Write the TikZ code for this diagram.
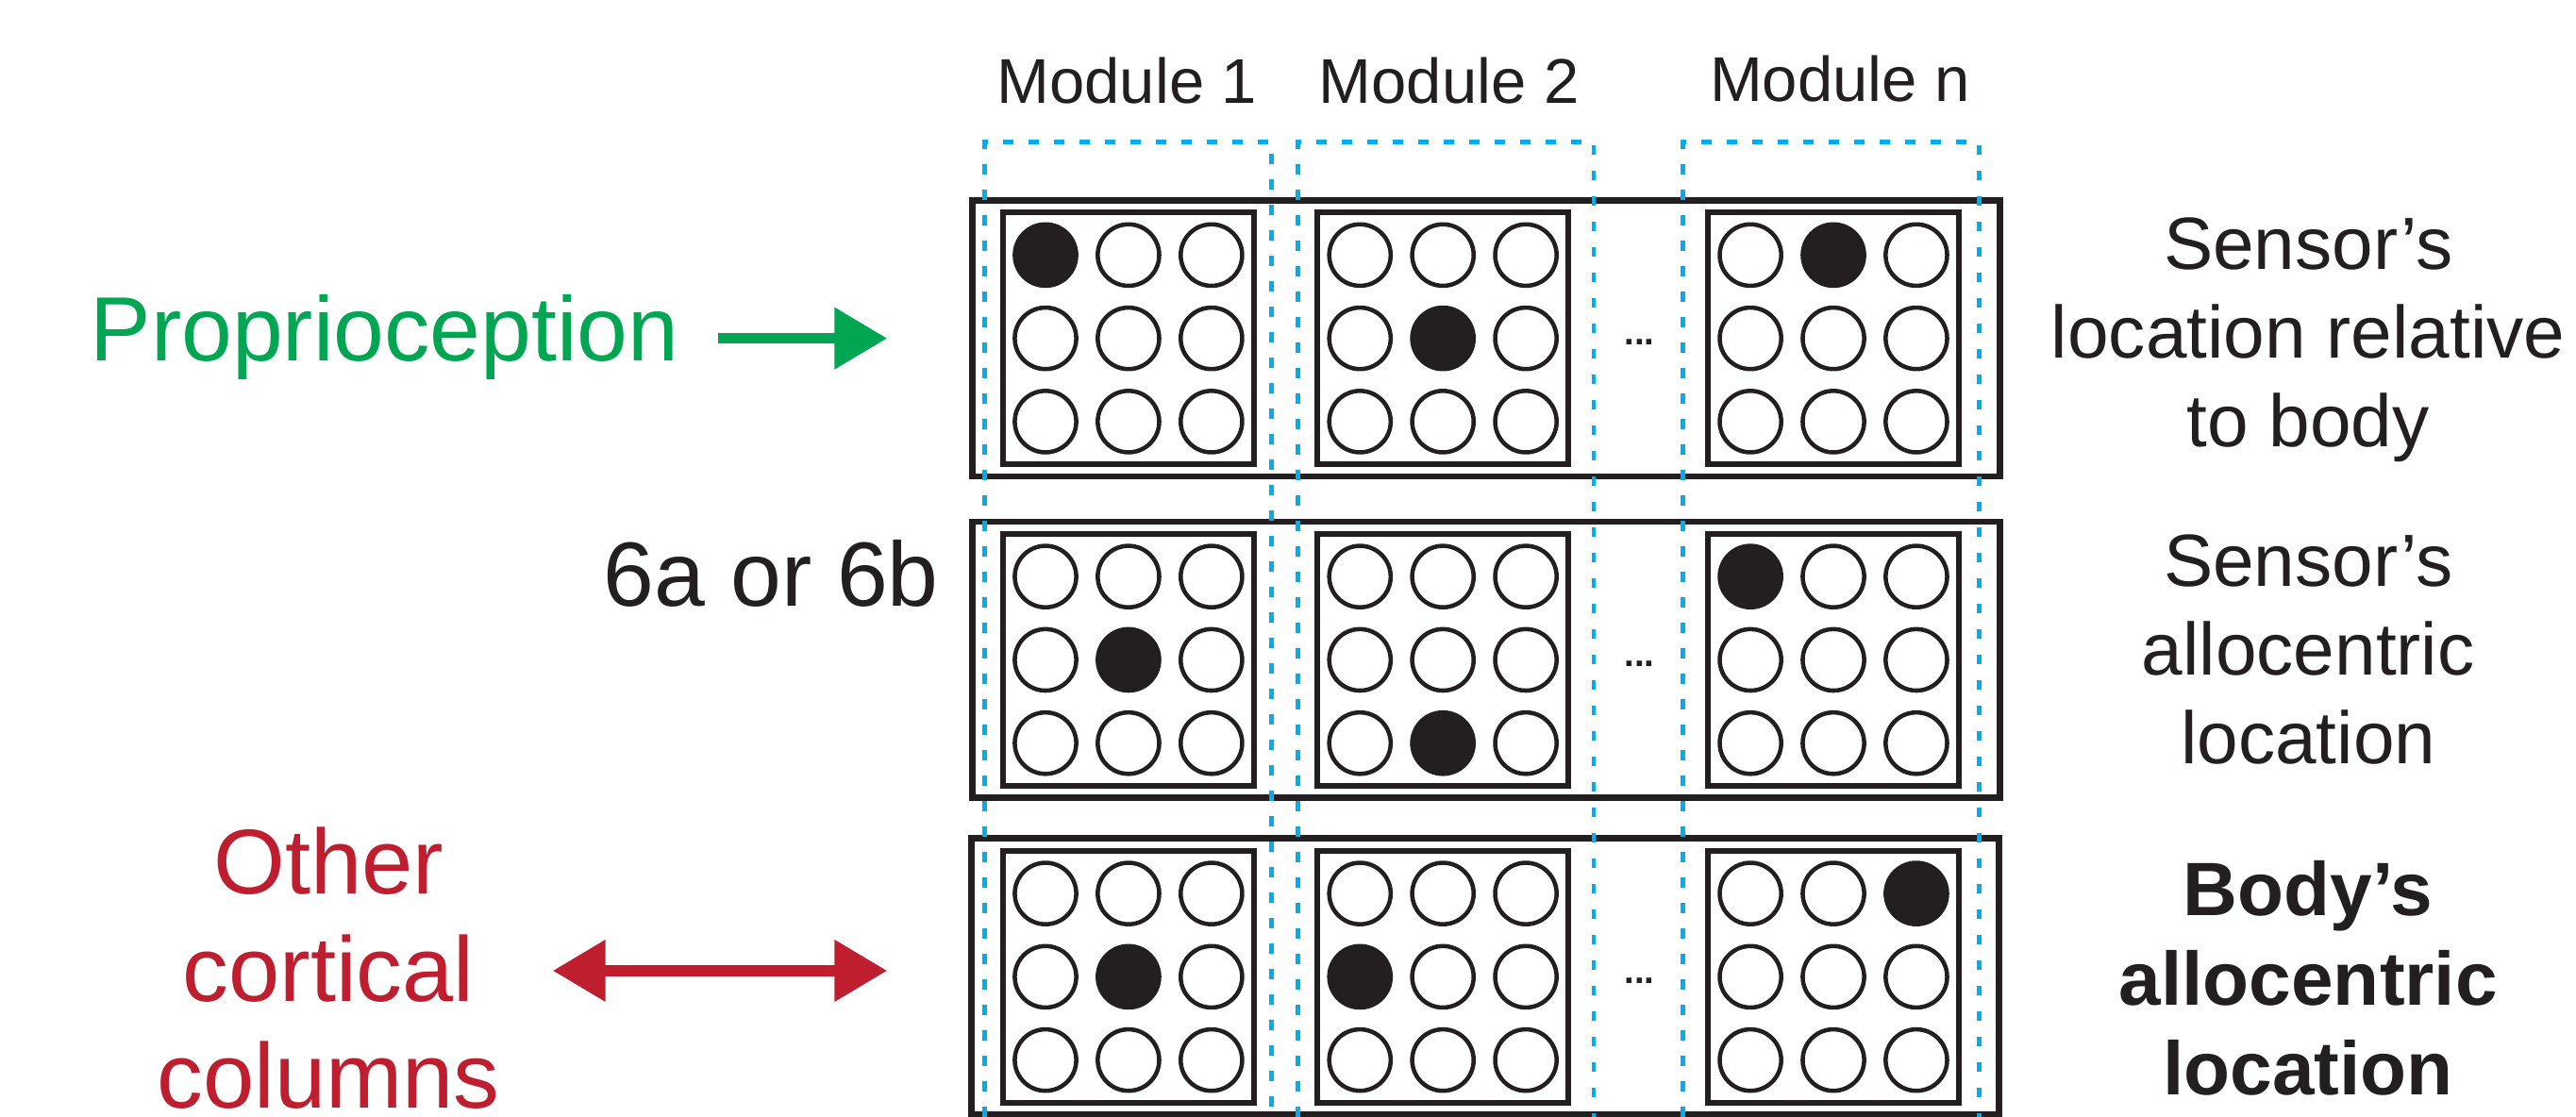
\documentclass[tikz,border=0pt]{standalone}
\usepackage{fontspec}
\setmainfont{Liberation Sans}
\usetikzlibrary{arrows.meta}
\definecolor{ink}{HTML}{231F20}
\definecolor{pgreen}{HTML}{00A651}
\definecolor{cred}{HTML}{BE1E2D}
\definecolor{mblue}{HTML}{00AEEF}
\newcommand\cellgrid[3]{%
  \foreach \k in {0,...,8}{%
    \pgfmathtruncatemacro\ci{mod(\k,3)}%
    \pgfmathtruncatemacro\ri{div(\k,3)}%
    \ifnum\k=#3\relax
      \fill[ink] ({#1+(\ci-1)*50.5},{#2+(\ri-1)*50.7}) circle[radius=0.2cm];
    \else
      \draw[cell] ({#1+(\ci-1)*50.5},{#2+(\ri-1)*50.7}) circle[radius=0.187cm];
    \fi
  }}
\begin{document}
\begin{tikzpicture}[x=0.01cm,y=-0.01cm,
  rowbox/.style={draw=ink, line width=0.038cm, minimum width=6.25cm, minimum height=1.68cm, inner sep=0, outer sep=0},
  modbox/.style={draw=ink, line width=0.034cm, minimum width=1.53cm, minimum height=1.53cm, inner sep=0, outer sep=0},
  cell/.style={draw=ink, line width=0.026cm},
  modframe/.style={draw=mblue, line width=0.026cm, dash pattern=on 0.06cm off 0.095cm},
  modlabel/.style={inner sep=0, anchor=base, text=ink, font=\fontsize{10.95pt}{13pt}\selectfont},
  biglabel/.style={inner sep=0, anchor=base, font=\fontsize{15.8pt}{19pt}\selectfont},
  sidelabel/.style={inner sep=0, align=center, text=ink, font=\fontsize{12.8pt}{15.36pt}\selectfont},
  dotslabel/.style={inner sep=0, text=ink, font=\bfseries\fontsize{6.3pt}{7pt}\selectfont},
  headtip/.tip={Triangle[length=0.32cm,width=0.36cm]}
]
\useasboundingbox (0,0) rectangle (1568,680);

% module labels
\node[modlabel] (mod1) at (686,63) {Module 1};
\node[modlabel] (mod2) at (882,63) {Module 2};
\node[modlabel] (modn) at (1120,62) {Module n};

% row boxes
\node[rowbox] (r1) at (904.5,206) {};
\node[rowbox] (r2) at (904.5,401.75) {};
\node[rowbox] (r3) at (904,594.5) {};

% module boxes
\foreach \ry/\rn in {206/1,401.75/2,594.7/3}{
  \node[modbox] (m1\rn) at (686.9,\ry) {};
  \node[modbox] (m2\rn) at (878.3,\ry) {};
  \node[modbox] (mn\rn) at (1116,\ry) {};
}

% cells
\cellgrid{686.9}{206}{0}
\cellgrid{878.3}{206}{4}
\cellgrid{1116}{206}{1}
\cellgrid{686.9}{401.75}{4}
\cellgrid{878.3}{401.75}{7}
\cellgrid{1116}{401.75}{0}
\cellgrid{686.9}{594.7}{4}
\cellgrid{878.3}{594.7}{3}
\cellgrid{1116}{594.7}{2}

% dots
\node[dotslabel] (d1) at (998,208.5) {...};
\node[dotslabel] (d2) at (998,404) {...};
\node[dotslabel] (d3) at (998,597) {...};

% module frames
\draw[modframe] (599.4,680) -- (599.4,86.5) -- (774,86.5) -- (774,680);
\draw[modframe] (790,680) -- (790,86.5) -- (970,86.5) -- (970,680);
\draw[modframe] (1024.5,680) -- (1024.5,86.5) -- (1204.6,86.5) -- (1204.6,680);

% left labels and arrows
\node[biglabel, text=pgreen] (prop) at (234,219.6) {Proprioception};
\coordinate (gA) at (437,206);
\coordinate (gB) at (540,206);
\draw[-headtip, pgreen, line width=0.065cm] (gA) -- (gB);

\node[biglabel, text=ink] (sixab) at (469.5,369) {6a or 6b};

\node[inner sep=0, align=center, text=cred, font=\fontsize{15.93pt}{18.5pt}\selectfont] (other) at (200,589.5) {Other\\cortical\\columns};
\coordinate (rA) at (336.5,591);
\coordinate (rB) at (540,591);
\draw[headtip-headtip, cred, line width=0.065cm] (rA) -- (rB);

% right labels
\node[sidelabel] (t1) at (1405,207) {Sensor’s\\location relative\\to body};
\node[sidelabel] (t2) at (1405,395.5) {Sensor’s\\allocentric\\location};
\node[sidelabel, font=\bfseries\fontsize{13.1pt}{15.5pt}\selectfont] (t3) at (1405,595.7) {Body’s\\allocentric\\location};
\end{tikzpicture}
\end{document}
